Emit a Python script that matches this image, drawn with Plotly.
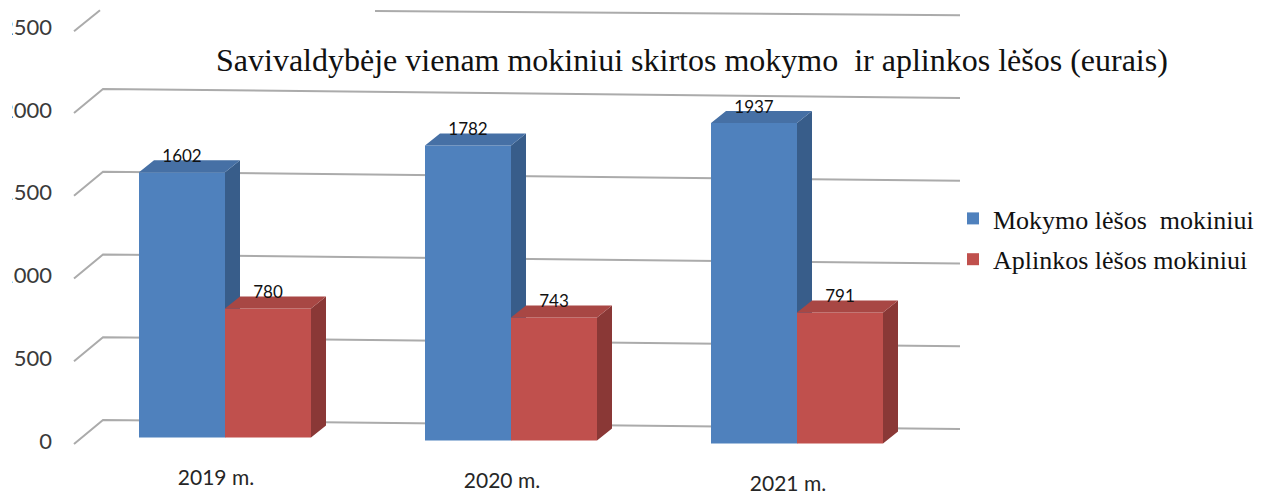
import plotly.graph_objects as go

# --- data ---
title_text = "Savivaldybėje vienam mokiniui skirtos mokymo  ir aplinkos lėšos (eurais)"
categories = ["2019 m.", "2020 m.", "2021 m."]
teaching = [1602, 1782, 1937]
environment = [780, 743, 791]
series_names = ["Mokymo lėšos  mokiniui", "Aplinkos lėšos mokiniui"]
ticks = [0, 500, 1000, 1500, 2000, 2500]

# --- canvas geometry ---
W, H = 1277, 495
PX_PER_CAT = 286.0
CAT0_PX = 225.0
PX_PER_UNIT = 0.1655
ZERO_PX = 441.0
SLOPE = 0.0105          # the whole picture leans slightly downwards to the right


def xd(px):
    return (px - CAT0_PX) / PX_PER_CAT


def units(px):
    return px / PX_PER_UNIT


x_range = [xd(0), xd(W)]
y_range = [(ZERO_PX - H) / PX_PER_UNIT, ZERO_PX / PX_PER_UNIT]

bar_w = 86.0 / PX_PER_CAT
depth_x = 15.0 / PX_PER_CAT
depth_y = units(12.0)
base_at_first = units(ZERO_PX - 437.5)
lean_per_cat = units(SLOPE * PX_PER_CAT)


def base_of(i):
    return base_at_first - lean_per_cat * i


fig = go.Figure()

# --- gridlines and wall diagonals (bottom layer) ---
gx, gy = [], []
BACK_X, FRONT_X, RIGHT_X = 103.0, 74.0, 960.0
BACK_OFFSET = units(21.0)
FRONT_DROP = units(24.0)
for t in ticks:
    lean = lambda px: units(SLOPE * (px - BACK_X))
    back = t + BACK_OFFSET
    if t == ticks[-1]:
        gx += [xd(FRONT_X), xd(100), None, xd(375), xd(RIGHT_X), None]
        gy += [back - units(25), back - units(4), None, back - lean(375) - units(2),
               back - lean(RIGHT_X), None]
    else:
        gx += [xd(FRONT_X), xd(BACK_X), xd(RIGHT_X), None]
        gy += [back - FRONT_DROP, back, back - lean(RIGHT_X), None]
fig.add_trace(go.Scatter(x=gx, y=gy, mode="lines", line=dict(color="#ababab", width=2),
                         showlegend=False, hoverinfo="skip", xaxis="x", yaxis="y"))

# --- category labels ---
fig.add_trace(go.Scatter(
    x=[i - 9.0 / PX_PER_CAT for i in range(len(categories))],
    y=[base_of(i) - units(42.0) for i in range(len(categories))],
    text=categories, mode="text", textposition="middle center",
    textfont=dict(family="Lato", size=21, color="#262626"),
    showlegend=False, hoverinfo="skip", xaxis="x", yaxis="y", cliponaxis=False))


def add_series(values, name, sign, front, side, top, xa, ya):
    xs = [i + sign * bar_w / 2 for i in range(len(values))]
    bases = [base_of(i) for i in range(len(values))]
    fig.add_trace(go.Bar(x=xs, y=values, base=bases, width=bar_w, name=name,
                         legendgroup=name, marker=dict(color=front, line=dict(width=0)),
                         hoverinfo="skip", xaxis=xa, yaxis=ya))
    tx, ty, sx, sy = [], [], [], []
    for x, v, b in zip(xs, values, bases):
        left, right, up = x - bar_w / 2, x + bar_w / 2, b + v
        tx += [left, right, right + depth_x, left + depth_x, left, None]
        ty += [up, up, up + depth_y, up + depth_y, up, None]
        sx += [right, right, right + depth_x, right + depth_x, right, None]
        sy += [b, up, up + depth_y, b + depth_y, b, None]
    fig.add_trace(go.Scatter(x=sx, y=sy, mode="lines", fill="toself", fillcolor=side,
                             line=dict(width=0), showlegend=False, hoverinfo="skip",
                             xaxis=xa, yaxis=ya))
    fig.add_trace(go.Scatter(x=tx, y=ty, mode="lines", fill="toself", fillcolor=top,
                             line=dict(width=0), showlegend=False, hoverinfo="skip",
                             xaxis=xa, yaxis=ya))
    fig.add_trace(go.Scatter(x=xs, y=[b + v + units(14.5) for b, v in zip(bases, values)],
                             text=[str(v) for v in values], mode="text",
                             textposition="middle center",
                             textfont=dict(family="Lato", size=17, color="#111111"),
                             showlegend=False, hoverinfo="skip", xaxis=xa, yaxis=ya,
                             cliponaxis=False))


add_series(teaching, series_names[0], -1, "#4f81bd", "#385d8a", "#4670a5", "x2", "y2")
add_series(environment, series_names[1], 1, "#c0504d", "#8a3836", "#a84744", "x3", "y3")

hidden = dict(visible=False, range=x_range, fixedrange=True)
hidden_y = dict(visible=False, range=y_range, fixedrange=True)

fig.update_layout(
    width=W, height=H, margin=dict(l=0, r=0, t=0, b=0),
    paper_bgcolor="white", plot_bgcolor="white",
    barmode="overlay", autosize=False,
    xaxis=dict(**hidden, domain=[0, 1]),
    yaxis=dict(range=y_range, fixedrange=True, anchor="free", position=52.0 / W,
               tickmode="array", tickvals=ticks, ticktext=[str(t) for t in ticks],
               ticks="", showgrid=False, zeroline=False, showline=False,
               tickfont=dict(family="Lato", size=22, color="#3a3a3a")),
    xaxis2=dict(**hidden, overlaying="x"),
    yaxis2=dict(**hidden_y, overlaying="y"),
    xaxis3=dict(**hidden, overlaying="x"),
    yaxis3=dict(**hidden_y, overlaying="y"),
    showlegend=True,
    legend=dict(x=953.0 / W, y=1 - 195.0 / H, xanchor="left", yanchor="top",
                bgcolor="rgba(0,0,0,0)", traceorder="grouped", tracegroupgap=4,
                itemclick=False, itemdoubleclick=False,
                font=dict(family="Liberation Serif", size=26, color="#111111")),
    annotations=[dict(text=title_text, x=692.0 / W, y=1 - 60.0 / H, xref="paper", yref="paper",
                      xanchor="center", yanchor="middle", showarrow=False,
                      font=dict(family="Liberation Serif", size=32, color="#111111"))],
    shapes=[dict(type="rect", xref="paper", yref="paper", x0=0, x1=12.0 / W, y0=0, y1=1,
                 fillcolor="white", line=dict(width=0), layer="above")],
)

fig.write_html("out.html", config=dict(displayModeBar=False),
               post_script="document.body.style.margin='0';document.body.style.overflow='hidden';")
